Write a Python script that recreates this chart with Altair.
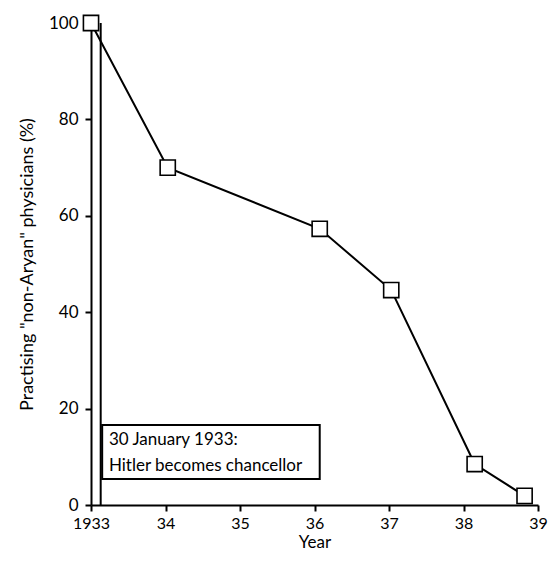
import altair as alt
import pandas as pd

years = [1933.0, 1934.03, 1936.07, 1937.03, 1938.15, 1938.82]
percent = [100, 70, 57.3, 44.6, 8.5, 1.9]

x_ticks = [1933, 1934, 1935, 1936, 1937, 1938, 1939]
y_ticks = [0, 20, 40, 60, 80, 100]

event_x = [1933.13]
event_y = [0]
event_y2 = [100]

box_x = [1933.15]
box_x2 = [1936.07]
box_y = [5.4]
box_y2 = [16.6]

note_lines = ["30 January 1933:", "Hitler becomes chancellor"]
note_x = [1933.24, 1933.24]
note_y = [13.5, 8.1]

FONT = "Lato"

df = pd.DataFrame({"year": years, "pct": percent})
ev = pd.DataFrame({"x": event_x, "y": event_y, "y2": event_y2})
box = pd.DataFrame({"x": box_x, "x2": box_x2, "y": box_y, "y2": box_y2})
notes = pd.DataFrame({"t": note_lines, "x": note_x, "y": note_y})

xs = alt.Scale(domain=[1933, 1939], nice=False, zero=False)
ys = alt.Scale(domain=[0, 100], nice=False)

xax = alt.Axis(values=x_ticks, title="Year",
               labelExpr="datum.value == 1933 ? '1933' : substring(toString(datum.value), 2, 4)",
               labelFlush=False, titlePadding=3, labelPadding=4, titleFontSize=17)
yax = alt.Axis(values=y_ticks, title='Practising "non-Aryan" physicians (%)',
               titlePadding=12, labelPadding=7, labelFontSize=17)

base = alt.Chart(df)

line = base.mark_line(color="black", strokeWidth=2).encode(
    x=alt.X("year:Q", scale=xs, axis=xax),
    y=alt.Y("pct:Q", scale=ys, axis=yax),
)
pts = base.mark_point(shape="square", size=230, filled=True, fill="white",
                      stroke="black", strokeWidth=1.6, opacity=1).encode(
    x=alt.X("year:Q", scale=xs), y=alt.Y("pct:Q", scale=ys))

rule = alt.Chart(ev).mark_rule(color="black", strokeWidth=2).encode(
    x=alt.X("x:Q", scale=xs), y=alt.Y("y:Q", scale=ys), y2="y2:Q")

rect = alt.Chart(box).mark_rect(fill="white", stroke="black", strokeWidth=2).encode(
    x=alt.X("x:Q", scale=xs), x2="x2:Q", y=alt.Y("y:Q", scale=ys), y2="y2:Q")

txt = alt.Chart(notes).mark_text(align="left", baseline="middle", font=FONT,
                                 fontSize=17, color="black").encode(
    x=alt.X("x:Q", scale=xs), y=alt.Y("y:Q", scale=ys), text="t:N")

chart = alt.layer(rule, line, pts, rect, txt).properties(
    width=447, height=482,
    autosize=alt.AutoSizeParams(type="none"),
    padding={"left": 83, "top": 15, "right": 10, "bottom": 50},
).configure_view(stroke=None).configure_axis(
    grid=False, domainColor="black", domainWidth=2, tickColor="black",
    tickWidth=2, tickSize=6, labelFont=FONT, titleFont=FONT, labelFontSize=16,
    titleFontSize=18, labelColor="black", titleColor="black", titleFontWeight="normal",
)

chart.save("out.html", embed_options={"renderer": "svg", "actions": False})
